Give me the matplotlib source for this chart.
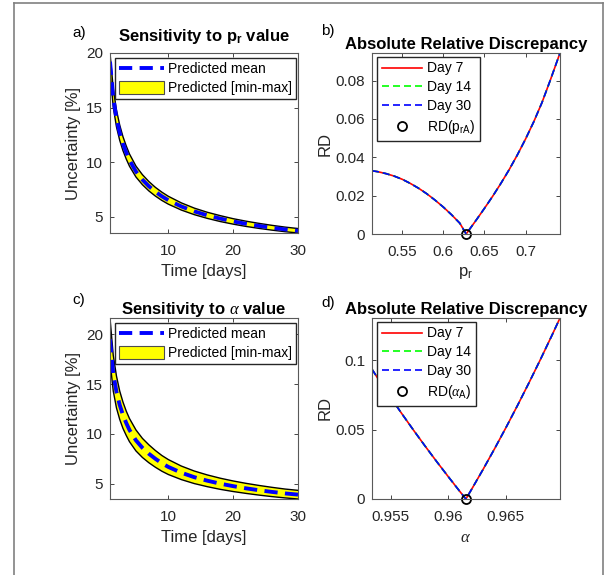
import matplotlib
matplotlib.use('Agg')
import matplotlib.pyplot as plt
from matplotlib.lines import Line2D

plt.rcParams['font.family'] = ['Liberation Sans', 'DejaVu Sans']
plt.rcParams['mathtext.fontset'] = 'custom'
plt.rcParams['mathtext.rm'] = 'Liberation Sans'
plt.rcParams['mathtext.sf'] = 'Liberation Sans'
plt.rcParams['mathtext.bf'] = 'Liberation Sans:bold'
plt.rcParams['mathtext.it'] = 'Liberation Serif:italic'

# ---- data ----
days = [1, 1.5, 2, 2.5, 3, 3.5, 4, 5, 6, 7, 8, 9, 10, 12, 14, 16, 18, 20, 22, 24, 26, 28, 30]

# a) sensitivity to p_r
mean_pr = [19.2, 15.9, 14.0, 12.7, 11.7, 10.9, 10.2, 9.15, 8.4, 7.8, 7.3, 6.88, 6.52,
           5.95, 5.5, 5.14, 4.84, 4.58, 4.36, 4.17, 4.0, 3.85, 3.72]
upper_pr = [20.0, 16.75, 14.77, 13.4, 12.34, 11.5, 10.76, 9.65, 8.86, 8.23, 7.70, 7.26, 6.88,
            6.28, 5.80, 5.42, 5.11, 4.83, 4.60, 4.40, 4.22, 4.06, 3.93]
lower_pr = [18.3, 15.05, 13.23, 12.0, 11.06, 10.3, 9.64, 8.65, 7.94, 7.37, 6.9, 6.5, 6.16,
            5.62, 5.2, 4.86, 4.57, 4.33, 4.12, 3.94, 3.78, 3.64, 3.52]

# c) sensitivity to alpha
mean_al = [19.5, 16.1, 14.2, 12.9, 11.9, 11.1, 10.4, 9.35, 8.6, 8.0, 7.5, 7.05, 6.68,
           6.1, 5.65, 5.3, 5.0, 4.75, 4.53, 4.34, 4.17, 4.02, 3.9]
upper_al = [21.64, 17.9, 15.8, 14.3, 13.2, 12.3, 11.55, 10.4, 9.55, 8.9, 8.33, 7.83, 7.42,
            6.77, 6.27, 5.88, 5.55, 5.27, 5.03, 4.82, 4.63, 4.46, 4.33]
lower_al = [17.3, 14.3, 12.6, 11.45, 10.55, 9.85, 9.22, 8.29, 7.63, 7.1, 6.65, 6.25, 5.92,
            5.41, 5.01, 4.7, 4.43, 4.21, 4.02, 3.85, 3.7, 3.57, 3.46]

# b) relative discrepancy vs p_r (days 7, 14, 30 coincide)
pr_vals = [0.513, 0.52, 0.53, 0.54, 0.55, 0.56, 0.57, 0.58, 0.59, 0.60, 0.61, 0.62, 0.6277,
           0.64, 0.65, 0.66, 0.67, 0.68, 0.69, 0.70, 0.71, 0.72, 0.73, 0.742]
rd_pr = [0.0330, 0.0325, 0.0315, 0.0302, 0.0285, 0.0263, 0.0238, 0.0209, 0.0176, 0.0140,
         0.0100, 0.0056, 0.0, 0.0073, 0.0134, 0.0197, 0.0264, 0.0335, 0.0412, 0.0495,
         0.0585, 0.0685, 0.0800, 0.0944]
pr_opt = [0.6277]
rd_pr_opt = [0.0]

# d) relative discrepancy vs alpha
al_vals = [0.95338, 0.954, 0.955, 0.956, 0.957, 0.958, 0.959, 0.960, 0.961, 0.96153,
           0.962, 0.963, 0.964, 0.965, 0.966, 0.967, 0.968, 0.969, 0.9697]
rd_al = [0.0935, 0.0854, 0.0731, 0.0611, 0.0494, 0.0380, 0.0269, 0.0161, 0.0055, 0.0,
         0.0066, 0.0210, 0.0359, 0.0513, 0.0672, 0.0836, 0.1005, 0.1179, 0.1304]
al_opt = [0.96153]
rd_al_opt = [0.0]

day_labels = ['Day 7', 'Day 14', 'Day 30']

W, H = 608, 575
fig = plt.figure(figsize=(W / 100, H / 100), dpi=100)

def px_axes(l, t, r, b):
    return fig.add_axes([l / W, 1 - b / H, (r - l) / W, (b - t) / H])

ax_a = px_axes(110, 53, 298, 233)
ax_b = px_axes(372, 53, 560, 234)
ax_c = px_axes(110, 318, 298, 499)
ax_d = px_axes(372, 318, 560, 499)

DARK = '#262626'

def style(ax):
    ax.tick_params(direction='in', length=3, width=0.6, colors=DARK, labelsize=11,
                   top=True, right=True, pad=5)
    ax.tick_params(axis='x', pad=8)
    for s in ax.spines.values():
        s.set_color('0.35')
        s.set_linewidth(0.8)


def band_panel(ax, mean, lower, upper, title, title_pad):
    ax.fill_between(days, lower, upper, facecolor='yellow', edgecolor='none')
    ax.plot(days, upper, color='black', lw=1.0)
    ax.plot(days, lower, color='black', lw=1.0)
    ax.plot(days, mean, color='blue', lw=2.8, dashes=(3.4, 1.9))
    ax.set_xlim(1, 30)
    ax.set_ylim(min(lower), max(upper))
    ax.set_xticks([10, 20, 30])
    ax.set_yticks([5, 10, 15, 20])
    style(ax)
    ax.set_xlabel('Time [days]', fontsize=12, color=DARK)
    ax.set_ylabel('Uncertainty [%]', fontsize=12, color=DARK)
    ax.set_title(title, fontsize=12, fontweight='bold', pad=title_pad)
    h_mean = Line2D([], [], color='blue', lw=2.8, dashes=(3.4, 1.9))
    h_band = plt.Rectangle((0, 0), 1, 1, facecolor='yellow', edgecolor='0.3', lw=0.8)
    ax.legend([h_mean, h_band], ['Predicted mean', 'Predicted [min-max]'],
              loc='upper left', bbox_to_anchor=(0.027, 0.972), borderaxespad=0,
              fontsize=10, handlelength=3.2, handleheight=1.0, handletextpad=0.3,
              labelspacing=0.35, borderpad=0.3, fancybox=False, framealpha=1,
              edgecolor=DARK)


def rd_panel(ax, xv, yv, xo, yo, opt_label, xticks, xtlabels, yticks, ytlabels, xlabel):
    ax.plot(xv, yv, color='red', lw=1.2, label=day_labels[0])
    ax.plot(xv, yv, color='#00ff00', lw=1.2, dashes=(4.2, 2.4), label=day_labels[1])
    ax.plot(xv, yv, color='blue', lw=1.2, dashes=(4.2, 2.4), label=day_labels[2])
    ax.plot(xo, yo, 'o', ms=6.5, mfc='none', mec='black', mew=1.3, clip_on=False,
            label=opt_label)
    ax.set_xlim(min(xv), max(xv))
    ax.set_ylim(min(yv), max(yv))
    ax.set_xticks(xticks)
    ax.set_xticklabels(xtlabels)
    ax.set_yticks(yticks)
    ax.set_yticklabels(ytlabels)
    style(ax)
    ax.set_xlabel(xlabel, fontsize=12, color=DARK)
    ax.set_ylabel('RD', fontsize=12, color=DARK)
    ax.set_title('Absolute Relative Discrepancy', fontsize=12, fontweight='bold', pad=3)
    ax.legend(loc='upper left', bbox_to_anchor=(0.025, 0.98), borderaxespad=0,
              fontsize=10, handlelength=2.9, handletextpad=0.35, labelspacing=0.35,
              borderpad=0.35, fancybox=False, framealpha=1, edgecolor=DARK)


band_panel(ax_a, mean_pr, lower_pr, upper_pr, r'Sensitivity to p$_{\mathbf{r}}$ value', 9)
band_panel(ax_c, mean_al, lower_al, upper_al, r'Sensitivity to $\alpha$ value', 3)

rd_panel(ax_b, pr_vals, rd_pr, pr_opt, rd_pr_opt, r'RD(p$_{\rm rA}$)',
         [0.55, 0.6, 0.65, 0.7], ['0.55', '0.6', '0.65', '0.7'],
         [0, 0.02, 0.04, 0.06, 0.08], ['0', '0.02', '0.04', '0.06', '0.08'],
         r'p$_{\rm r}$')
rd_panel(ax_d, al_vals, rd_al, al_opt, rd_al_opt, r'RD($\alpha_{\rm A}$)',
         [0.955, 0.96, 0.965], ['0.955', '0.96', '0.965'],
         [0, 0.05, 0.1], ['0', '0.05', '0.1'], r'$\alpha$')

ax_a.yaxis.set_label_coords(-0.154, 0.5)
ax_c.yaxis.set_label_coords(-0.154, 0.5)
ax_b.yaxis.set_label_coords(-0.21, 0.5)
ax_d.yaxis.set_label_coords(-0.21, 0.5)

# panel letters
for x, y, s in [(79, 33, 'a)'), (328, 31, 'b)'), (79, 300, 'c)'), (328, 303, 'd)')]:
    fig.text(x / W, 1 - y / H, s, ha='center', va='center', fontsize=11)

# outer frame of the exported figure
frame = dict(color='0.5', lw=1.2, transform=fig.transFigure)
fig.add_artist(Line2D([14 / W, 14 / W], [0, 1 - 3 / H], **frame))
fig.add_artist(Line2D([14 / W, 603 / W], [1 - 3 / H, 1 - 3 / H], **frame))
fig.add_artist(Line2D([603 / W, 603 / W], [0, 1 - 3 / H], **frame))

fig.savefig('out.png', dpi=100)
